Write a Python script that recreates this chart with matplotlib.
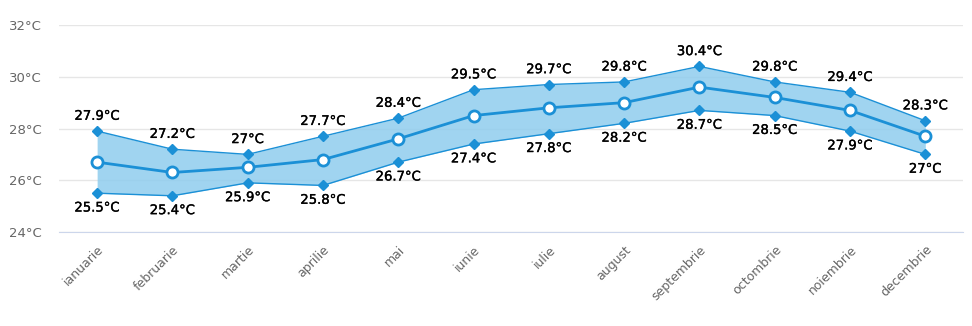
import matplotlib.pyplot as plt
import matplotlib.patheffects as pe
import numpy as np

luni = ['ianuarie', 'februarie', 'martie', 'aprilie', 'mai', 'iunie', 'iulie',
        'august', 'septembrie', 'octombrie', 'noiembrie', 'decembrie']
temp_max = [27.9, 27.2, 27.0, 27.7, 28.4, 29.5, 29.7, 29.8, 30.4, 29.8, 29.4, 28.3]
temp_min = [25.5, 25.4, 25.9, 25.8, 26.7, 27.4, 27.8, 28.2, 28.7, 28.5, 27.9, 27.0]
temp_medie = [26.7, 26.3, 26.5, 26.8, 27.6, 28.5, 28.8, 29.0, 29.6, 29.2, 28.7, 27.7]
y_ticks = [24, 26, 28, 30, 32]

albastru = '#1b90d6'
umplere = '#8fcdee'

fig = plt.figure(figsize=(9.72, 3.26), dpi=100)
ax = fig.add_axes([0.0612, 0.2883, 0.9295, 0.635])

x = np.arange(len(luni))

# zona dintre minim si maxim
ax.fill_between(x, temp_min, temp_max, color=umplere, alpha=0.85, lw=0, zorder=2)
ax.plot(x, temp_max, color=albastru, lw=1, marker='D', ms=5, zorder=3)
ax.plot(x, temp_min, color=albastru, lw=1, marker='D', ms=5, zorder=3)

# linia medie
ax.plot(x, temp_medie, color=albastru, lw=2, marker='o', ms=8,
        mfc='white', mec=albastru, mew=2, zorder=4)

def fmt(v):
    s = f'{v:.1f}'
    if s.endswith('.0'):
        s = s[:-2]
    return s + '°C'

gros = [pe.withStroke(linewidth=0.25, foreground='black')]
for i in x:
    ax.annotate(fmt(temp_max[i]), (i, temp_max[i]), xytext=(0, 6),
                textcoords='offset points', ha='center', va='bottom',
                fontsize=9.5, color='black', zorder=5, path_effects=gros)
    ax.annotate(fmt(temp_min[i]), (i, temp_min[i]), xytext=(0, -6),
                textcoords='offset points', ha='center', va='top',
                fontsize=9.5, color='black', zorder=5, path_effects=gros)

ax.set_xlim(-0.5, len(luni) - 0.5)
ax.set_ylim(24, 32)
ax.set_yticks(y_ticks)
ax.set_yticklabels([f'{t}°C' for t in y_ticks], color='#666666', fontsize=9.5)
ax.set_xticks(x)
ax.set_xticklabels(luni, rotation=45, ha='right', rotation_mode='anchor',
                   color='#666666', fontsize=9)

ax.grid(axis='y', color='#e6e6e6', lw=1, zorder=0)
for s in ['top', 'right', 'left']:
    ax.spines[s].set_visible(False)
ax.spines['bottom'].set_color('#ccd6eb')
ax.tick_params(axis='both', length=0)
ax.tick_params(axis='y', pad=12.5)
ax.tick_params(axis='x', pad=8)

fig.savefig('out.png', dpi=100)
